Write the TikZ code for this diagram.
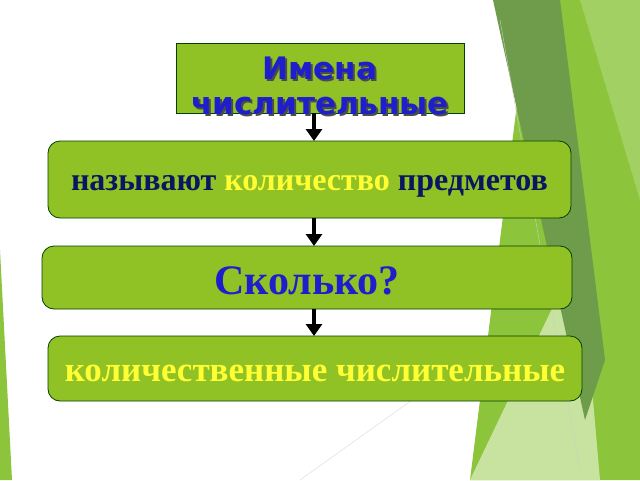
\documentclass[tikz,border=0pt]{standalone}
\usepackage{fontspec}
\setmainfont{Liberation Serif}
\newfontfamily\headfont{DejaVu Sans}
\usetikzlibrary{arrows.meta}
\definecolor{boxg}{HTML}{90C226}
\definecolor{lg}{HTML}{8CC43C}
\definecolor{dg}{HTML}{6E9C4A}
\definecolor{pg}{HTML}{C8E3A0}
\definecolor{navy}{HTML}{0B1660}
\definecolor{yel}{HTML}{FFFF33}
\definecolor{blu}{HTML}{1E1ECC}
\tikzset{
 box/.style={draw=black!75!green,line width=0.8pt,fill=boxg},
 rbox/.style={box,rounded corners=12pt},
 conn/.style={line width=3.5pt,-{Triangle[length=12pt,width=16pt]}},
}
\begin{document}
\begin{tikzpicture}[x=1pt,y=-1pt]
\useasboundingbox (0,0) rectangle (640,480);
% background decoration
\fill[lg] (530,0) -- (640,0) -- (640,480) -- (470,480) -- cycle;
\fill[pg] (470,480) -- (580,250) -- (600,480) -- cycle;
\fill[dg] (493,0) -- (560,0) -- (605,360) -- (585,420) -- cycle;
\fill[lg!80!white] (580,0) -- (640,0) -- (640,200) -- cycle;
\fill[lg] (0,250) -- (12,480) -- (0,480) -- cycle;
\draw[black!20,line width=0.4pt] (500,20) -- (580,470);
\draw[black!15,line width=0.4pt] (440,380) -- (300,480);
% boxes
\path[box] (176,43) rectangle (464,113);
\node (t) at (320,78) {};
\foreach \dx/\c in {2/black!70,0/blu}{
  \node[text=\c,font=\headfont\bfseries\fontsize{31}{35}\selectfont,align=center] at (320+\dx,86+\dx) {Имена\\числительные};}
\path[rbox] (48,141) rectangle (571,218);
\node (b2) at (309.5,179.5) {};
\node[font=\bfseries\fontsize{32}{36}\selectfont,text=navy] at (309.5,186) {называют \textcolor{yel}{количество} предметов};
\path[rbox] (42,246) rectangle (572,309);
\node (b3) at (307,277.5) {};
\node[font=\bfseries\fontsize{42}{46}\selectfont,text=blu] at (307,281) {Сколько?};
\path[rbox] (48,336) rectangle (582,401);
\node (b4) at (315,368.5) {};
\node[font=\bfseries\fontsize{35}{40}\selectfont,text=yel] at (315,373) {количественные числительные};
% connectors
\coordinate (a1) at (314,113); \coordinate (e1) at (314,141);
\coordinate (a2) at (314,218); \coordinate (e2) at (314,246);
\coordinate (a3) at (314,309); \coordinate (e3) at (314,336);
\draw[conn] (a1) -- (e1);
\draw[conn] (a2) -- (e2);
\draw[conn] (a3) -- (e3);
\end{tikzpicture}
\end{document}
